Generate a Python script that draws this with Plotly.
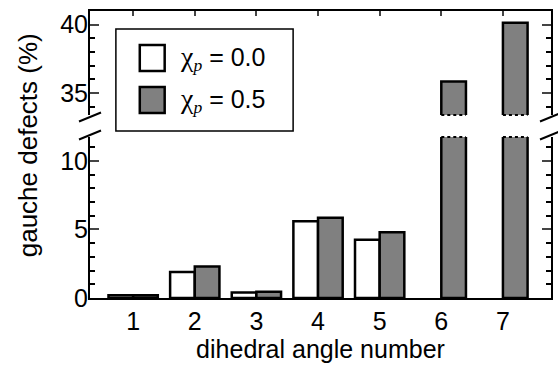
import plotly.graph_objects as go

# Gauche-defect percentages per dihedral angle
dihedral = [1, 2, 3, 4, 5, 6, 7]
defects_chi00 = [0.2, 1.9, 0.4, 5.6, 4.25, None, None]
defects_chi05 = [0.2, 2.3, 0.45, 5.85, 4.8, 35.85, 40.15]
CHI = "<span style='font-family:Liberation Serif;font-size:28px'>χ</span>"
PSUB = "<sub><span style='font-family:Liberation Serif'><i>p</i></span></sub>"
series_names = [CHI + PSUB + " = 0.0", CHI + PSUB + " = 0.5"]
lower_ticks = [0, 5, 10]
upper_ticks = [35, 40]

LOWER_RANGE = [0, 11.75]
UPPER_RANGE = [33.4, 41.0]
X_RANGE = [0.3, 7.78]
BAR_W = 0.4

W, H = 558, 366
M_L, M_R, M_T, M_B = 90, 5, 11, 68
PW, PH = W - M_L - M_R, H - M_T - M_B
LOWER_DOMAIN = [0, 161 / PH]
UPPER_DOMAIN = [183 / PH, 1]

FONT = "Liberation Sans, Arial, sans-serif"
GRAY = "#808080"
EDGE = dict(color="black", width=2.5)

fig = go.Figure()

# the same bars go into both panels of the broken axis
for xa, ya in (("x", "y"), ("x2", "y2")):
    fig.add_trace(go.Bar(x=dihedral, y=defects_chi00, offset=-BAR_W, width=BAR_W,
                         marker=dict(color="white", line=EDGE),
                         xaxis=xa, yaxis=ya, showlegend=False))
    fig.add_trace(go.Bar(x=dihedral, y=defects_chi05, offset=0, width=BAR_W,
                         marker=dict(color=GRAY, line=EDGE),
                         xaxis=xa, yaxis=ya, showlegend=False))

axis_common = dict(showgrid=False, zeroline=False, showline=True, linecolor="black",
                   linewidth=2, tickfont=dict(family=FONT, size=25, color="black"))

fig.update_layout(
    width=W, height=H,
    margin=dict(l=M_L, r=M_R, t=M_T, b=M_B, pad=0),
    plot_bgcolor="white", paper_bgcolor="white",
    barmode="overlay", showlegend=False,
    font=dict(family=FONT, color="black"),
    xaxis=dict(**axis_common, range=X_RANGE, anchor="y", tickvals=dihedral,
               ticks="", ticklabelstandoff=0,
               title=dict(text="dihedral angle number", font=dict(size=25), standoff=4)),
    xaxis2=dict(**axis_common, range=X_RANGE, anchor="y2", side="top",
                tickvals=dihedral, ticks="inside", ticklen=5, tickwidth=2,
                showticklabels=False),
    yaxis=dict(**axis_common, range=LOWER_RANGE, domain=LOWER_DOMAIN, anchor="x",
               tickvals=lower_ticks, ticks="inside", ticklen=9, tickwidth=2,
               mirror="ticks", ticklabelstandoff=-5,
               minor=dict(dtick=1, ticks="inside", ticklen=5, tickwidth=2, tickcolor="black")),
    yaxis2=dict(**axis_common, range=UPPER_RANGE, domain=UPPER_DOMAIN, anchor="x2",
                tickvals=upper_ticks, ticks="inside", ticklen=9, tickwidth=2,
                mirror="ticks", ticklabelstandoff=-5,
                minor=dict(dtick=1, ticks="inside", ticklen=5, tickwidth=2, tickcolor="black")),
)

shapes = []

# dotted edges where the tall bars are cut by the axis break
for cat, val in zip(dihedral, defects_chi05):
    if val is not None and val > LOWER_RANGE[1]:
        shapes.append(dict(type="line", xref="x", yref="y domain", x0=cat, x1=cat + BAR_W,
                           y0=1, y1=1, line=dict(color="black", width=2, dash="dot")))
        shapes.append(dict(type="line", xref="x2", yref="y2 domain", x0=cat, x1=cat + BAR_W,
                           y0=0, y1=0, line=dict(color="black", width=2, dash="dot")))

# break marks on both vertical axes
for xpos in (0, 1):
    for yref, ypos, dy in (("y2 domain", 0, -2), ("y domain", 1, 2)):
        shapes.append(dict(type="line", xref="paper", yref=yref,
                           xsizemode="pixel", ysizemode="pixel",
                           xanchor=xpos, yanchor=ypos,
                           x0=-11, x1=11, y0=dy - 4.5, y1=dy + 4.5,
                           line=dict(color="black", width=2)))


def px_x(px):
    return (px - M_L) / PW


def px_y(py):
    return (H - M_B - py) / PH


# legend box with large swatches
shapes.append(dict(type="rect", xref="paper", yref="paper",
                   x0=px_x(116), x1=px_x(294), y0=px_y(131), y1=px_y(29),
                   fillcolor="white", line=dict(color="black", width=1.5), layer="above"))
for (fill, yc) in (("white", 58), (GRAY, 100)):
    shapes.append(dict(type="rect", xref="paper", yref="paper",
                       x0=px_x(140), x1=px_x(165), y0=px_y(yc + 13), y1=px_y(yc - 13),
                       fillcolor=fill, line=EDGE, layer="above"))

annotations = []
for name, yc in zip(series_names, (58, 100)):
    annotations.append(dict(text=name, xref="paper", yref="paper", x=px_x(178), y=px_y(yc),
                            xanchor="left", yanchor="middle", showarrow=False,
                            font=dict(family=FONT, size=25, color="black")))

# y-axis title centred on the whole broken axis
annotations.append(dict(text="gauche defects (%)", xref="paper", yref="paper",
                        x=px_x(28), y=px_y(145), textangle=-90,
                        xanchor="center", yanchor="middle", showarrow=False,
                        font=dict(family=FONT, size=26, color="black")))

fig.update_layout(shapes=shapes, annotations=annotations)

fig.write_html("out.html")
